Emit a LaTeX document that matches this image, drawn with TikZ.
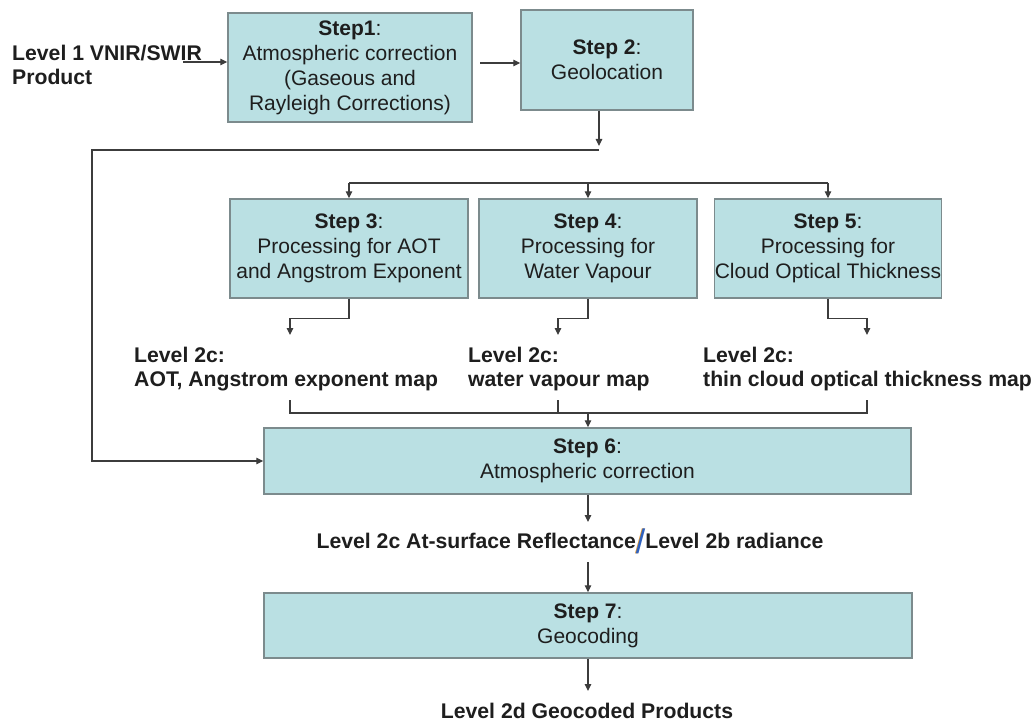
\documentclass[tikz,border=0pt]{standalone}
\usepackage{fontspec}
\setmainfont{Liberation Sans}
\usetikzlibrary{arrows.meta}

\definecolor{boxfill}{HTML}{BAE0E3}
\definecolor{boxline}{HTML}{7C8B8D}
\definecolor{wirecol}{HTML}{3C3C3C}
\definecolor{ink}{HTML}{1E1E1E}
\definecolor{slashblue}{HTML}{2F62C0}
\definecolor{slashorange}{HTML}{E0962E}

\tikzset{
  stepbox/.style={draw=boxline, line width=1.4pt, fill=boxfill, align=center,
    inner sep=0pt, text=ink, font=\fontsize{21}{25}\selectfont},
  lvl/.style={align=left, inner sep=0pt, text=ink,
    font=\fontsize{21.2}{24}\selectfont\bfseries},
  wire/.style={draw=wirecol, line width=1.1pt},
  arr/.style={wire, -{Triangle[length=7pt,width=6.5pt]}},
}

\begin{document}
\begin{tikzpicture}[x=1pt,y=-1pt]
\useasboundingbox (0,0) rectangle (1034,722);

% processing steps
\node[stepbox, minimum width=244, minimum height=109] (s1) at (350,67.5)
  {\textbf{Step1}:\\Atmospheric correction\\(Gaseous and\\Rayleigh Corrections)};
\node[stepbox, minimum width=172, minimum height=100] (s2) at (607,60)
  {\textbf{Step 2}:\\Geolocation};
\node[stepbox, minimum width=238, minimum height=99] (s3) at (349,248.5)
  {\textbf{Step 3}:\\Processing for AOT\\and Angstrom Exponent};
\node[stepbox, minimum width=218, minimum height=99] (s4) at (588,248.5)
  {\textbf{Step 4}:\\Processing for\\Water Vapour};
\node[stepbox, minimum width=226, minimum height=99] (s5) at (828,248.5)
  {\textbf{Step 5}:\\Processing for\\Cloud Optical Thickness};
\node[stepbox, minimum width=647, minimum height=66] (s6) at (587.5,461)
  {\textbf{Step 6}:\\Atmospheric correction};
\node[stepbox, minimum width=648, minimum height=65] (s7) at (588,625.5)
  {\textbf{Step 7}:\\Geocoding};

% products
\node[lvl, anchor=west] (in) at (12,65) {Level 1 VNIR/SWIR\\Product};
\node[lvl, anchor=west] (l3) at (134,369) {Level 2c:\\AOT, Angstrom exponent map};
\node[lvl, anchor=west] (l4) at (468,369) {Level 2c:\\water vapour map};
\node[lvl, anchor=west] (l5) at (703,369) {Level 2c:\\thin cloud optical thickness map};
\node[lvl] (refl) at (570,541) {Level 2c At-surface Reflectance%
  \raisebox{-4.5pt}{\fontsize{34}{34}\selectfont\mdseries
    \makebox[0pt][l]{\kern-0.8pt\color{slashorange}/}{\color{slashblue}/}}%
  Level 2b radiance};
\node[lvl] (fin) at (587,711) {Level 2d Geocoded Products};

% junction points
\coordinate (inEnd) at (183,62);
\coordinate (a12) at (480,63);
\coordinate (tap) at (599,146);
\coordinate (loopTop) at (599,150);
\coordinate (loopLeft) at (92,150);
\coordinate (dist) at (588,183);
\coordinate (o3) at (290,335);
\coordinate (o4) at (558,335);
\coordinate (o5) at (867,335);
\coordinate (c3) at (290,400);
\coordinate (c4) at (558,400);
\coordinate (c5) at (867,400);
\coordinate (cj) at (588,413);
\coordinate (r1) at (588,522);
\coordinate (r2) at (588,562);
\coordinate (f1) at (588,691);

% top row
\draw[arr] (inEnd) -- (s1.west |- inEnd);
\draw[arr] (a12) -- (s2.west |- a12);
\draw[arr] (s2.south -| tap) -- (tap);

% bypass to step 6
\draw[arr] (loopTop) -- (loopLeft) |- (s6.west);

% distribution to steps 3-5
\draw[wire] (s3.north |- dist) -- (s5.north |- dist);
\draw[arr] (s3.north |- dist) -- (s3.north);
\draw[arr] (s4.north |- dist) -- (s4.north);
\draw[arr] (s5.north |- dist) -- (s5.north);

% step outputs
\draw[arr] (s3.south) -- ++(0,20) -| (o3);
\draw[arr] (s4.south) -- ++(0,20) -| (o4);
\draw[arr] (s5.south) -- ++(0,20) -| (o5);

% collector into step 6
\draw[wire] (c3) |- (c5 |- cj) -- (c5);
\draw[wire] (c4) -- (c4 |- cj);
\draw[arr] (cj) -- (s6.north -| cj);

% final chain
\draw[arr] (s6.south -| r1) -- (r1);
\draw[arr] (r2) -- (s7.north -| r2);
\draw[arr] (s7.south -| f1) -- (f1);
\end{tikzpicture}
\end{document}
